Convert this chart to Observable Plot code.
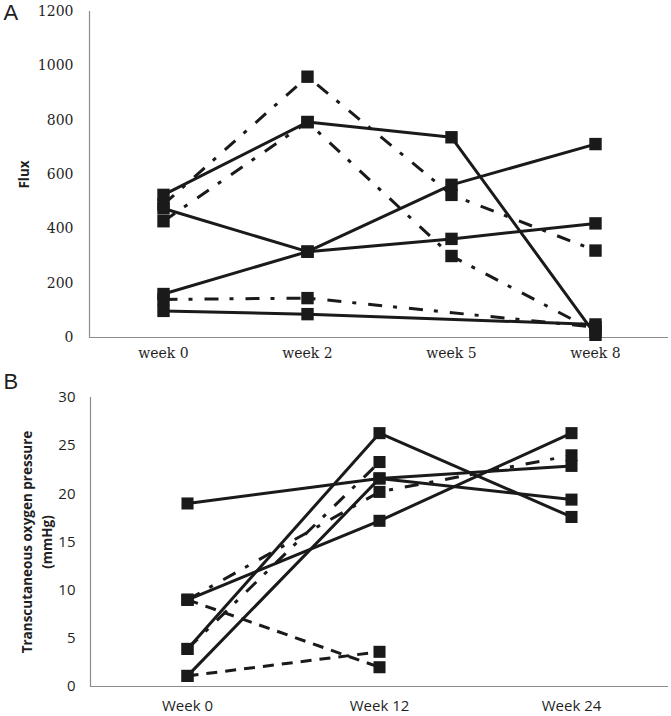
<!DOCTYPE html>
<html>
<head>
<meta charset="utf-8">
<script src="https://cdn.jsdelivr.net/npm/d3@7"></script>
<script src="https://cdn.jsdelivr.net/npm/@observablehq/plot@0.6"></script>
<style>
  html, body { margin: 0; padding: 0; background: #fff; }
  #chart { width: 671px; }
  #chart svg { overflow: visible; }
</style>
</head>
<body>
<div id="chart"></div>
<script>
// ---------- Panel A: Flux ----------
const weeksA = ["week 0", "week 2", "week 5", "week 8"];
const fluxSolid1 = [525, 793, 737, 10];
const fluxSolid2 = [475, 316, 363, 420];
const fluxSolid3 = [160, 316, 562, 712];
const fluxSolid4 = [98, 86, null, 48];
const fluxDashDot1 = [490, 960, 525, 320];
const fluxDashDot2 = [428, 793, 300, 22];
const fluxDashDot3 = [140, 145, null, 38];
const fluxTicks = [0, 200, 400, 600, 800, 1000, 1200];

// ---------- Panel B: TcPO2 ----------
const weeksB = ["Week 0", "Week 12", "Week 24"];
const tcpo2Solid1 = [19.0, 21.6, 19.4];
const tcpo2Solid2 = [9.0, 17.2, 26.3];
const tcpo2Solid3 = [3.9, 26.3, 17.6];
const tcpo2Solid4 = [1.1, 21.6, 22.9];
const tcpo2DashDot1 = [9.0, 20.2, 24.0];
const tcpo2DashDot2 = [3.9, 23.3, null];
const tcpo2Dashed1 = [9.0, 2.0, null];
const tcpo2Dashed2 = [1.1, 3.6, null];
const tcpo2Ticks = [0, 5, 10, 15, 20, 25, 30];

function rows(weeks, seriesList) {
  const out = [];
  seriesList.forEach((vals, i) => {
    vals.forEach((v, j) => {
      if (v != null) out.push({week: weeks[j], value: v, series: i});
    });
  });
  return out;
}

const INK = "#1a1a1a";
const AXIS = "#8c8c8c";
const DASHDOT = "14,11,4,12";
const DASHED = "11,8";

const solidA = rows(weeksA, [fluxSolid1, fluxSolid2, fluxSolid3, fluxSolid4]);
const dashDotA = rows(weeksA, [fluxDashDot1, fluxDashDot2, fluxDashDot3]);

const plotA = Plot.plot({
  width: 671,
  height: 366,
  marginLeft: 89,
  marginRight: 3,
  marginTop: 11,
  marginBottom: 29,
  style: {fontFamily: "DejaVu Serif", fontSize: "14px", color: "#1f1f1f", background: "white"},
  x: {type: "point", domain: weeksA, padding: 0.5, label: null, tickSize: 0, tickPadding: 11},
  y: {domain: [0, 1200], ticks: fluxTicks, tickSize: 0, tickPadding: 16, label: null, tickFormat: d3.format("d")},
  marks: [
    Plot.ruleY([0], {stroke: AXIS, strokeWidth: 1.2}),
    Plot.frame({anchor: "left", stroke: AXIS, strokeWidth: 1.2}),
    Plot.line(solidA, {x: "week", y: "value", z: "series", stroke: INK, strokeWidth: 3}),
    Plot.line(dashDotA, {x: "week", y: "value", z: "series", stroke: INK, strokeWidth: 3, strokeDasharray: DASHDOT, strokeLinecap: "butt"}),
    Plot.dot([...solidA, ...dashDotA], {x: "week", y: "value", symbol: "square", r: 7, fill: INK, stroke: "none"}),
    Plot.text(["Flux"], {text: d => d, frameAnchor: "left", textAnchor: "middle", rotate: -90, dx: -65, fontFamily: "Open Sans", fontWeight: "bold", fontSize: 13.5, fill: "#1f1f1f"}),
    Plot.text(["A"], {text: d => d, frameAnchor: "top-left", textAnchor: "start", lineAnchor: "top", dx: -86, dy: -7, fontFamily: "Liberation Sans", fontSize: 22, fill: "#1f1f1f"})
  ]
});

const solidB = rows(weeksB, [tcpo2Solid1, tcpo2Solid2, tcpo2Solid3, tcpo2Solid4]);
const dashDotB = rows(weeksB, [tcpo2DashDot1, tcpo2DashDot2]);
const dashedB = rows(weeksB, [tcpo2Dashed1, tcpo2Dashed2]);

const plotB = Plot.plot({
  width: 671,
  height: 350,
  marginLeft: 90,
  marginRight: 3,
  marginTop: 31,
  marginBottom: 30,
  style: {fontFamily: "Open Sans", fontSize: "15px", color: "#1f1f1f", background: "white"},
  x: {type: "point", domain: weeksB, padding: 0.5, label: null, tickSize: 0, tickPadding: 14},
  y: {domain: [0, 30], ticks: tcpo2Ticks, tickSize: 0, tickPadding: 15, label: null},
  marks: [
    Plot.ruleY([0], {stroke: AXIS, strokeWidth: 1.2}),
    Plot.frame({anchor: "left", stroke: AXIS, strokeWidth: 1.2}),
    Plot.line(solidB, {x: "week", y: "value", z: "series", stroke: INK, strokeWidth: 3}),
    Plot.line(dashDotB, {x: "week", y: "value", z: "series", stroke: INK, strokeWidth: 3, strokeDasharray: DASHDOT, strokeLinecap: "butt"}),
    Plot.line(dashedB, {x: "week", y: "value", z: "series", stroke: INK, strokeWidth: 3, strokeDasharray: DASHED, strokeLinecap: "butt"}),
    Plot.dot([...solidB, ...dashDotB, ...dashedB], {x: "week", y: "value", symbol: "square", r: 6.8, fill: INK, stroke: "none"}),
    Plot.text(["Transcutaneous oxygen pressure\n(mmHg)"], {text: d => d, frameAnchor: "left", textAnchor: "middle", lineAnchor: "middle", rotate: -90, dx: -55, lineHeight: 1.5, fontFamily: "Open Sans", fontWeight: "bold", fontSize: 13.5, fill: "#1f1f1f"}),
    Plot.text(["B"], {text: d => d, frameAnchor: "top-left", textAnchor: "start", lineAnchor: "top", dx: -87, dy: -24, fontFamily: "Liberation Sans", fontSize: 22, fill: "#1f1f1f"})
  ]
});

const root = document.getElementById("chart");
root.appendChild(plotA);
root.appendChild(plotB);
</script>
</body>
</html>
